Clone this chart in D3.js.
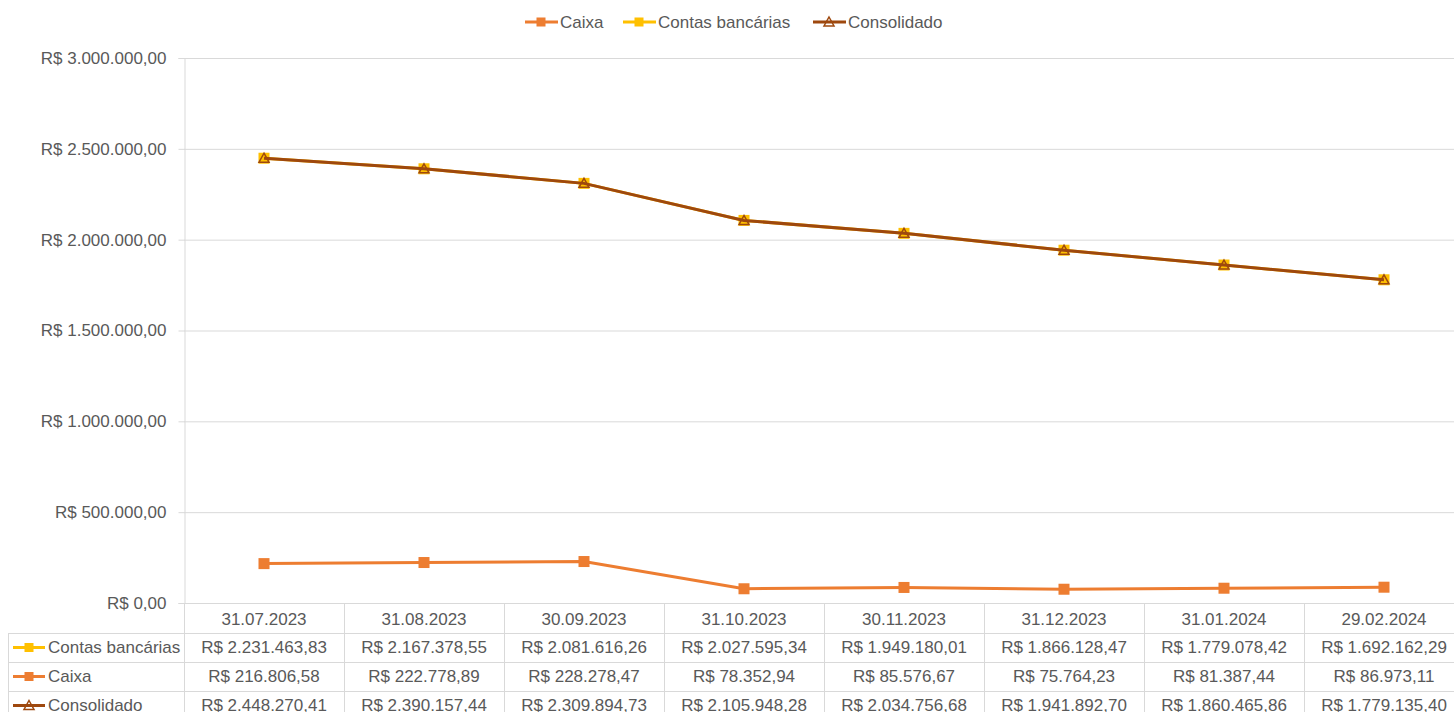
<!DOCTYPE html>
<html><head><meta charset="utf-8">
<script src="https://cdn.jsdelivr.net/npm/d3@7"></script>
<style>body{margin:0;background:#fff}svg{display:block}text{font-family:"Liberation Sans",Arial,sans-serif;fill:#595959}</style>
</head><body><svg id="c" width="1454" height="712"></svg>
<script>
const categories=["31.07.2023","31.08.2023","30.09.2023","31.10.2023","30.11.2023","31.12.2023","31.01.2024","29.02.2024"];
const contas=[2231463.83,2167378.55,2081616.26,2027595.34,1949180.01,1866128.47,1779078.42,1692162.29];
const caixa=[216806.58,222778.89,228278.47,78352.94,85576.67,75764.23,81387.44,86973.11];
const consolidado=[2448270.41,2390157.44,2309894.73,2105948.28,2034756.68,1941892.70,1860465.86,1779135.40];
const yTicks=[0,500000,1000000,1500000,2000000,2500000,3000000];
const colors={caixa:"#ED7D31",contas:"#FFC000",cons:"#9E480E"};

const svg=d3.select("#c");
const pL=184,pR=1464,pT=58,pB=603;
const x=d3.scaleBand().domain(categories).range([pL,pR]);
const y=d3.scaleLinear().domain([0,3000000]).range([pB,pT]);
const brl=v=>"R$ "+d3.formatLocale({decimal:",",thousands:".",grouping:[3],currency:["R$ ",""]}).format(",.2f")(v);
const fs=17;

svg.append("g").selectAll("line").data(yTicks.slice(1)).join("line")
 .attr("x1",pL).attr("x2",1454).attr("y1",d=>y(d)+0.5).attr("y2",d=>y(d)+0.5).attr("stroke","#d9d9d9").attr("stroke-width",1);
const ya=svg.append("g").attr("transform",`translate(${pL+0.5},0)`).call(d3.axisLeft(y).tickValues(yTicks).tickSize(6).tickPadding(12).tickFormat(brl));
ya.select(".domain").attr("stroke","#d9d9d9");
ya.selectAll(".tick line").attr("stroke","#d9d9d9");
ya.selectAll("text").style("font-size",fs+"px").attr("fill","#595959").style("font-family","Liberation Sans, Arial, sans-serif");

const rowsY=[603,633,662,691,720];
const tb=svg.append("g");
tb.append("line").attr("x1",pL).attr("x2",1454).attr("y1",pB+0.5).attr("y2",pB+0.5).attr("stroke","#d9d9d9");
tb.selectAll(".hl").data(rowsY.slice(1,4)).join("line").attr("x1",8).attr("x2",1454).attr("y1",d=>d+0.5).attr("y2",d=>d+0.5).attr("stroke","#d9d9d9");
tb.append("line").attr("x1",8.5).attr("x2",8.5).attr("y1",633).attr("y2",712).attr("stroke","#d9d9d9");
tb.selectAll(".vl").data(categories).join("line").attr("x1",d=>x(d)+x.bandwidth()+0.5).attr("x2",d=>x(d)+x.bandwidth()+0.5).attr("y1",pB).attr("y2",712).attr("stroke","#d9d9d9");
tb.append("line").attr("x1",pL+0.5).attr("x2",pL+0.5).attr("y1",pB).attr("y2",712).attr("stroke","#d9d9d9");
tb.selectAll(".cat").data(categories).join("text").attr("x",d=>x(d)+x.bandwidth()/2).attr("y",(rowsY[0]+rowsY[1])/2+1).attr("dy","0.35em").attr("text-anchor","middle").style("font-size",fs+"px").text(d=>d);

const rows=[{name:"Contas bancárias",vals:contas,c:colors.contas,m:"sq"},{name:"Caixa",vals:caixa,c:colors.caixa,m:"sq"},{name:"Consolidado",vals:consolidado,c:colors.cons,m:"tri"}];
function marker(g,type,c,cx,cy,s){
 if(type==="sq") g.append("rect").attr("x",cx-s/2).attr("y",cy-s/2).attr("width",s).attr("height",s).attr("fill",c);
 else g.append("path").attr("d",`M${cx},${cy-5}L${cx+5},${cy+4}L${cx-5},${cy+4}Z`).attr("fill","none").attr("stroke",c).attr("stroke-width",1.5);
}
rows.forEach((r,i)=>{
 const cy=(rowsY[i+1]+rowsY[i+2])/2;
 const g=tb.append("g");
 g.append("line").attr("x1",13).attr("x2",45).attr("y1",cy).attr("y2",cy).attr("stroke",r.c).attr("stroke-width",3);
 marker(g,r.m,r.c,29,cy,9);
 g.append("text").attr("x",48).attr("y",cy).attr("dy","0.35em").style("font-size",fs+"px").text(r.name);
 g.selectAll(".v").data(r.vals).join("text").attr("x",(d,j)=>x(categories[j])+x.bandwidth()/2).attr("y",cy).attr("dy","0.35em").attr("text-anchor","middle").style("font-size",fs+"px").text(d=>brl(d));
});

const stacked=contas.map((v,i)=>v+caixa[i]);
const cxf=i=>x(categories[i])+x.bandwidth()/2;
const line=d3.line().x((d,i)=>cxf(i)).y(d=>y(d));
const plot=svg.append("g");
plot.append("path").datum(caixa).attr("d",line).attr("fill","none").attr("stroke",colors.caixa).attr("stroke-width",3);
caixa.forEach((v,i)=>marker(plot,"sq",colors.caixa,cxf(i),y(v),11));
plot.append("path").datum(stacked).attr("d",line).attr("fill","none").attr("stroke",colors.contas).attr("stroke-width",3);
stacked.forEach((v,i)=>marker(plot,"sq",colors.contas,cxf(i),y(v),11));
plot.append("path").datum(consolidado).attr("d",line).attr("fill","none").attr("stroke",colors.cons).attr("stroke-width",3);
consolidado.forEach((v,i)=>marker(plot,"tri",colors.cons,cxf(i),y(v),9));

const leg=[{name:"Caixa",c:colors.caixa,m:"sq",x:525},{name:"Contas bancárias",c:colors.contas,m:"sq",x:623},{name:"Consolidado",c:colors.cons,m:"tri",x:813}];
leg.forEach(l=>{
 const g=svg.append("g");
 g.append("line").attr("x1",l.x).attr("x2",l.x+33).attr("y1",22).attr("y2",22).attr("stroke",l.c).attr("stroke-width",3);
 marker(g,l.m,l.c,l.x+16,22,9);
 g.append("text").attr("x",l.x+35).attr("y",22).attr("dy","0.35em").style("font-size",fs+"px").text(l.name);
});
</script></body></html>
